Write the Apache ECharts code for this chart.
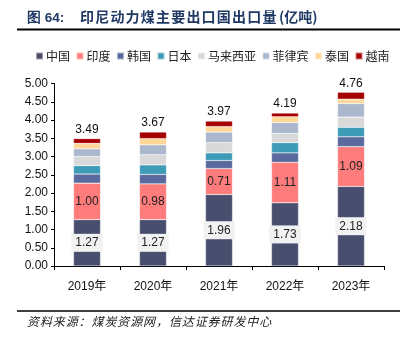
<!DOCTYPE html>
<html><head><meta charset="utf-8">
<script src="https://cdn.jsdelivr.net/npm/echarts@6/dist/echarts.min.js"></script>
<style>html,body{margin:0;padding:0;background:#fff}#c{width:400px;height:339px}</style>
</head><body><div id="c"></div>
<script>
const categories = ['2019年','2020年','2021年','2022年','2023年'];
const china = [1.27, 1.27, 1.96, 1.73, 2.18];
const india = [1.00, 0.98, 0.71, 1.11, 1.09];
const korea = [0.25, 0.26, 0.22, 0.26, 0.27];
const japan = [0.23, 0.26, 0.21, 0.28, 0.26];
const malaysia = [0.25, 0.28, 0.28, 0.25, 0.28];
const philippines = [0.21, 0.27, 0.29, 0.30, 0.37];
const thailand = [0.15, 0.17, 0.15, 0.16, 0.12];
const vietnam = [0.13, 0.18, 0.15, 0.10, 0.19];
const totals = [3.49, 3.67, 3.97, 4.19, 4.76];
const yTicks = ['0.00','0.50','1.00','1.50','2.00','2.50','3.00','3.50','4.00','4.50','5.00'];
const titlePrefix = '图 64:';
const titleMain = '印尼动力煤主要出口国出口量';
const titleUnit = '(亿吨)';
const sourceText = '资料来源：煤炭资源网，信达证券研发中心';

const names = ['中国','印度','韩国','日本','马来西亚','菲律宾','泰国','越南'];
const colors = ['#484e6e','#ff7c7c','#5b6a9e','#3d9bb7','#d9d9d9','#aab7cd','#ffd899','#a50000'];
const datas = [china, india, korea, japan, malaysia, philippines, thailand, vietnam];
const FONT = '"Liberation Sans", Arial, "Noto Sans CJK SC", sans-serif';
const CJK = '"Noto Sans CJK SC", sans-serif';

const series = names.map((n, i) => {
  const s = {
    name: n, type: 'bar', stack: 'total', barWidth: 27,
    data: datas[i],
    itemStyle: { color: colors[i], borderColor: 'rgba(255,255,255,0.5)', borderWidth: 0.5 }
  };
  if (i === 0) {
    s.label = { show: true, position: 'inside', formatter: p => p.value.toFixed(2),
      color: '#222', fontSize: 12, fontFamily: FONT, backgroundColor: '#f2f2f2',
      padding: [3, 4, 3, 4] };
  } else if (i === 1) {
    s.label = { show: true, position: 'inside', formatter: p => p.value.toFixed(2),
      color: '#222', fontSize: 12, fontFamily: FONT };
  } else if (i === 7) {
    s.label = { show: true, position: 'top', distance: 3, formatter: p => totals[p.dataIndex].toFixed(2),
      color: '#111', fontSize: 12, fontFamily: FONT };
  }
  return s;
});

const titleColor = '#1f3864';
const graphics = [
  { type: 'line', shape: { x1: 17, y1: 29.5, x2: 400, y2: 29.5 }, style: { stroke: '#000', lineWidth: 2 } },
  { type: 'line', shape: { x1: 17, y1: 311, x2: 400, y2: 311 }, style: { stroke: '#000', lineWidth: 1.5 } },
  { type: 'text', x: 27, y: 11, style: { text: titlePrefix, font: 'bold 13.5px "Liberation Sans", Arial, sans-serif', fill: titleColor } },
  { type: 'text', x: 279, y: 10, style: { text: titleUnit, font: 'bold 14px ' + CJK, fill: titleColor } }
];
Array.from(titleMain).forEach((ch, k) => {
  graphics.push({ type: 'text', x: 80 + k * 15.2, y: 10, style: { text: ch, font: 'bold 14px ' + CJK, fill: titleColor } });
});
Array.from(sourceText).forEach((ch, k) => {
  graphics.push({ type: 'text', x: 27 + k * 12.9, y: 315, style: { text: ch, font: 'italic 12px ' + CJK, fill: '#222' } });
});

const chart = echarts.init(document.getElementById('c'), null, { renderer: 'canvas' });
chart.setOption({
  animation: false,
  color: colors,
  legend: { top: 45, left: 30, itemWidth: 7, itemHeight: 7, itemGap: 5.5,
    icon: 'rect', textStyle: { fontSize: 12, color: '#222', fontFamily: CJK, padding: [0,0,0,-2] },
    data: names },
  grid: { left: 54, right: 16, top: 83.5, bottom: 73, containLabel: false },
  xAxis: { type: 'category', data: categories,
    axisLine: { lineStyle: { color: '#000', width: 1 } },
    axisTick: { show: true, length: 4, lineStyle: { color: '#000' } },
    axisLabel: { color: '#111', fontSize: 12, fontFamily: FONT, margin: 15 } },
  yAxis: { type: 'value', min: 0, max: 5, interval: 0.5,
    axisLine: { show: true, lineStyle: { color: '#000' } },
    axisTick: { show: true, length: 3, lineStyle: { color: '#000' } },
    splitLine: { show: false },
    axisLabel: { color: '#111', fontSize: 12, fontFamily: FONT, margin: 6,
      formatter: (v) => yTicks[Math.round(v / 0.5)] } },
  graphic: graphics,
  series: series
});
</script></body></html>
